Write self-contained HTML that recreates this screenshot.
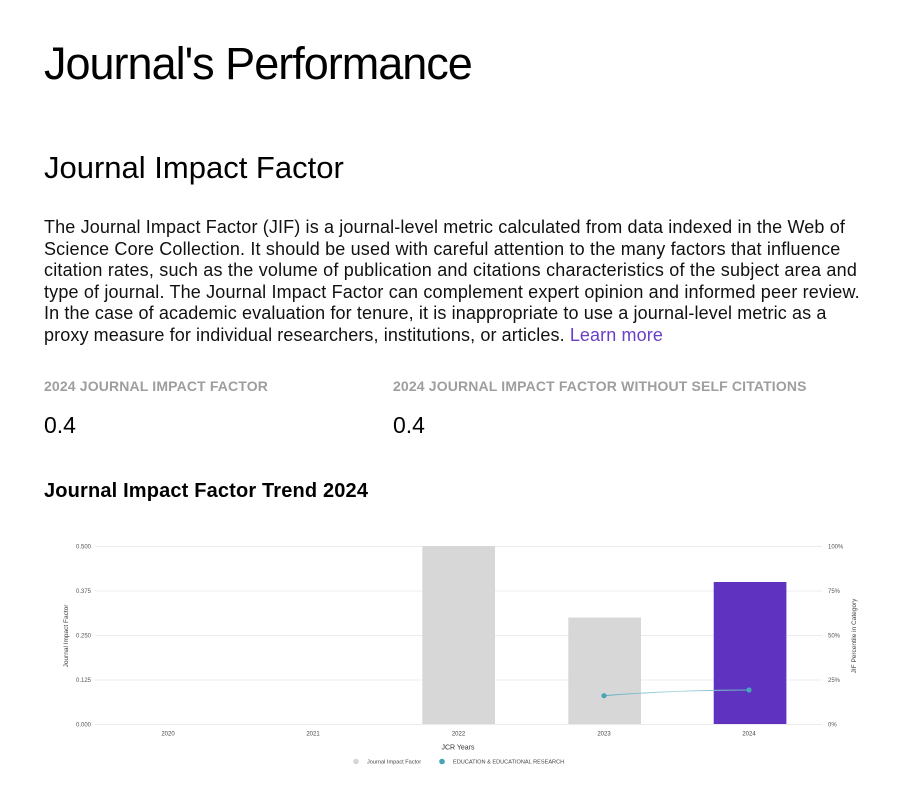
<!DOCTYPE html>
<html>
<head>
<meta charset="utf-8">
<style>
  html,body{margin:0;padding:0;background:#fff;}
  body{width:906px;height:799px;position:relative;overflow:hidden;font-family:"Liberation Sans",Arial,sans-serif;color:#000;}
  .a{position:absolute;white-space:nowrap;line-height:1;}
  .p{position:absolute;left:44px;white-space:nowrap;font-size:18px;line-height:21.6px;color:#111;}
  .lab{font-size:14px;font-weight:bold;color:#9e9e9e;letter-spacing:0.15px;}
  .val{font-size:23px;color:#000;}
  a{color:#6a3fc8;text-decoration:none;}
</style>
</head>
<body>
<div class="a" style="left:44px;top:41px;font-size:45px;letter-spacing:-1px;">Journal's Performance</div>
<div class="a" style="left:44px;top:152px;font-size:31px;">Journal Impact Factor</div>

<div class="p" style="top:217px;letter-spacing:0.14px;">The Journal Impact Factor (JIF) is a journal-level metric calculated from data indexed in the Web of</div>
<div class="p" style="top:238.6px;letter-spacing:0.17px;">Science Core Collection. It should be used with careful attention to the many factors that influence</div>
<div class="p" style="top:260.2px;letter-spacing:0.2px;">citation rates, such as the volume of publication and citations characteristics of the subject area and</div>
<div class="p" style="top:281.8px;letter-spacing:0.16px;">type of journal. The Journal Impact Factor can complement expert opinion and informed peer review.</div>
<div class="p" style="top:303.4px;letter-spacing:0.12px;">In the case of academic evaluation for tenure, it is inappropriate to use a journal-level metric as a</div>
<div class="p" style="top:325px;letter-spacing:0.11px;">proxy measure for individual researchers, institutions, or articles. <a>Learn more</a></div>

<div class="a lab" style="left:44px;top:379px;">2024 JOURNAL IMPACT FACTOR</div>
<div class="a lab" style="left:393px;top:379px;">2024 JOURNAL IMPACT FACTOR WITHOUT SELF CITATIONS</div>
<div class="a val" style="left:44px;top:413.8px;">0.4</div>
<div class="a val" style="left:393px;top:413.8px;">0.4</div>

<div class="a" style="left:44px;top:480.8px;font-size:20px;font-weight:bold;letter-spacing:0.16px;">Journal Impact Factor Trend 2024</div>

<svg style="position:absolute;left:0;top:0;" width="906" height="799" viewBox="0 0 906 799" font-family="Liberation Sans, Arial, sans-serif">
  <defs>
    <linearGradient id="lg" x1="0" x2="1" y1="0" y2="0">
      <stop offset="0" stop-color="#5aaebe"/>
      <stop offset="0.5" stop-color="#b6dbe2"/>
      <stop offset="1" stop-color="#5aaebe"/>
    </linearGradient>
  </defs>
  <g stroke="#ececec" stroke-width="1">
    <line x1="95" x2="822" y1="546.5" y2="546.5"/>
    <line x1="95" x2="822" y1="591" y2="591"/>
    <line x1="95" x2="822" y1="635.5" y2="635.5"/>
    <line x1="95" x2="822" y1="680" y2="680"/>
    <line x1="95" x2="822" y1="724.5" y2="724.5"/>
  </g>
  <rect x="422.3" y="546" width="72.7" height="178" fill="#d7d7d7"/>
  <rect x="568.3" y="617.6" width="72.7" height="106.4" fill="#d7d7d7"/>
  <rect x="713.7" y="582" width="72.7" height="142" fill="#5f33bf"/>
  <path d="M604 695.7 C650 692, 700 690, 749 690" stroke="url(#lg)" stroke-width="1" fill="none"/>
  <circle cx="604" cy="695.7" r="2.6" fill="#46a5b6"/>
  <circle cx="749" cy="690" r="2.6" fill="#46a5b6"/>

  <g font-size="6" fill="#555" text-anchor="end">
    <text x="91" y="548.5">0.500</text>
    <text x="91" y="593">0.375</text>
    <text x="91" y="637.5">0.250</text>
    <text x="91" y="682">0.125</text>
    <text x="91" y="726.5">0.000</text>
  </g>
  <g font-size="6" fill="#555" text-anchor="start">
    <text x="828" y="548.5">100%</text>
    <text x="828" y="593">75%</text>
    <text x="828" y="637.5">50%</text>
    <text x="828" y="682">25%</text>
    <text x="828" y="726.5">0%</text>
  </g>
  <text transform="translate(68,636) rotate(-90)" font-size="6.5" fill="#444" text-anchor="middle">Journal Impact Factor</text>
  <text transform="translate(856,636) rotate(-90)" font-size="6.5" fill="#444" text-anchor="middle">JIF Percentile in Category</text>
  <g font-size="6" fill="#444" text-anchor="middle">
    <text x="168" y="735.5">2020</text>
    <text x="313" y="735.5">2021</text>
    <text x="458.5" y="735.5">2022</text>
    <text x="604" y="735.5">2023</text>
    <text x="749" y="735.5">2024</text>
  </g>
  <text x="458" y="749.5" font-size="7" fill="#333" text-anchor="middle">JCR Years</text>
  <circle cx="356" cy="761.5" r="2.8" fill="#d7d7d7"/>
  <text x="367" y="763.5" font-size="5.6" fill="#444">Journal Impact Factor</text>
  <circle cx="442" cy="761.5" r="2.8" fill="#46a5b6"/>
  <text x="453" y="763.5" font-size="5.6" fill="#444">EDUCATION &amp; EDUCATIONAL RESEARCH</text>
</svg>
</body>
</html>
